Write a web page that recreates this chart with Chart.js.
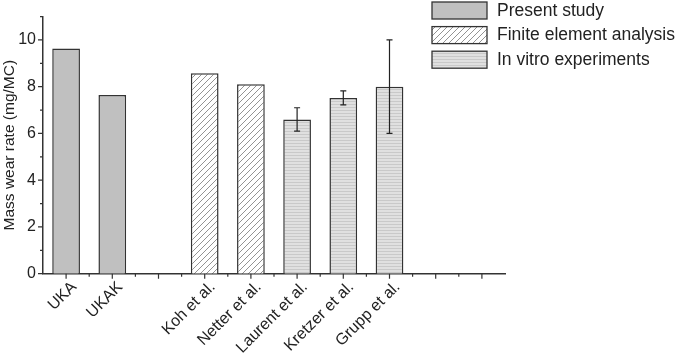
<!DOCTYPE html>
<html>
<head>
<meta charset="utf-8">
<script src="https://cdn.jsdelivr.net/npm/chart.js@4"></script>
<style>
  html, body { margin: 0; padding: 0; background: #fff; }
  #wrap { width: 675px; height: 357px; }
</style>
</head>
<body>
<div id="wrap"><canvas id="wear-chart" width="675" height="357"></canvas></div>
<script>
// categories along the x axis (blank slots are empty in the original)
const categories = ['UKA', 'UKAK', '', 'Koh et al.', 'Netter et al.', 'Laurent et al.', 'Kretzer et al.', 'Grupp et al.', '', ''];
const presentStudy = [9.63, 7.65, null, null, null, null, null, null, null, null];
const finiteElement = [null, null, null, 8.58, 8.11, null, null, null, null, null];
const inVitro = [null, null, null, null, null, 6.6, 7.52, 8.0, null, null];
const inVitroError = [null, null, null, null, null, 0.5, 0.3, 2.0, null, null];
const yMajorTicks = [0, 2, 4, 6, 8, 10];
const yMax = 11;

const FONT = '"Liberation Sans", Arial, sans-serif';
const INK = '#222';
const AXIS = '#333';

function makePattern(w, h, draw) {
    const c = document.createElement('canvas');
    c.width = w; c.height = h;
    const g = c.getContext('2d');
    draw(g, w, h);
    return g.createPattern(c, 'repeat');
}

const solidGray = '#c0c0c0';
const hatch = makePattern(6, 6, (g, w, h) => {
    g.fillStyle = '#fff';
    g.fillRect(0, 0, w, h);
    g.strokeStyle = '#777';
    g.lineWidth = 0.8;
    g.beginPath();
    g.moveTo(0, h); g.lineTo(w, 0);
    g.moveTo(-1, 1); g.lineTo(1, -1);
    g.moveTo(w - 1, h + 1); g.lineTo(w + 1, h - 1);
    g.stroke();
});
const stripes = makePattern(1, 3, (g) => {
    g.fillStyle = '#e0e0e0';
    g.fillRect(0, 0, 1, 2);
    g.fillStyle = '#c9c9c9';
    g.fillRect(0, 2, 1, 1);
});

// error bars on top of the in vitro bars
const errorBars = {
    id: 'errorBars',
    afterDatasetsDraw(chart) {
        const ctx = chart.ctx;
        const y = chart.scales.y;
        const meta = chart.getDatasetMeta(2);
        ctx.save();
        ctx.strokeStyle = INK;
        ctx.lineWidth = 1.2;
        meta.data.forEach((bar, i) => {
            const v = inVitro[i], e = inVitroError[i];
            if (v == null || e == null) return;
            const x = bar.x;
            const top = y.getPixelForValue(v + e);
            const bot = y.getPixelForValue(v - e);
            ctx.beginPath();
            ctx.moveTo(x, top); ctx.lineTo(x, bot);
            ctx.moveTo(x - 3, top); ctx.lineTo(x + 3, top);
            ctx.moveTo(x - 3, bot); ctx.lineTo(x + 3, bot);
            ctx.stroke();
        });
        ctx.restore();
    }
};

// major and minor tick marks on both axes
const axisTicks = {
    id: 'axisTicks',
    afterDraw(chart) {
        const ctx = chart.ctx;
        const x = chart.scales.x, y = chart.scales.y;
        const area = chart.chartArea;
        ctx.save();
        ctx.strokeStyle = AXIS;
        ctx.lineWidth = 1.2;
        ctx.beginPath();
        for (let v = 0; v <= yMax; v++) {
            const py = y.getPixelForValue(v);
            const len = v % 2 === 0 ? 5 : 3;
            ctx.moveTo(area.left, py); ctx.lineTo(area.left - len, py);
        }
        const half = (x.getPixelForValue(1) - x.getPixelForValue(0)) / 2;
        categories.forEach((c, i) => {
            const px = x.getPixelForValue(i);
            ctx.moveTo(px, area.bottom); ctx.lineTo(px, area.bottom + 5);
            if (i < categories.length - 1) {
                ctx.moveTo(px + half, area.bottom); ctx.lineTo(px + half, area.bottom + 3);
            }
        });
        ctx.stroke();
        ctx.restore();
    }
};

// legend drawn inside the top right corner
const boxLegend = {
    id: 'boxLegend',
    afterDraw(chart) {
        const ctx = chart.ctx;
        ctx.save();
        ctx.font = '17.5px ' + FONT;
        ctx.textBaseline = 'middle';
        chart.data.datasets.forEach((ds, i) => {
            const top = 2 + i * 24.6;
            ctx.fillStyle = ds.backgroundColor;
            ctx.fillRect(432, top, 55, 17);
            ctx.strokeStyle = AXIS;
            ctx.lineWidth = 1.3;
            ctx.strokeRect(432, top, 55, 17);
            ctx.fillStyle = INK;
            ctx.fillText(ds.label, 497, top + 9);
        });
        ctx.restore();
    }
};

const barStyle = { borderColor: AXIS, borderWidth: 1.5, barPercentage: 0.6, categoryPercentage: 1 };

new Chart(document.querySelector('#wear-chart').getContext('2d'), {
    type: 'bar',
    data: {
        labels: categories,
        datasets: [
            Object.assign({ label: 'Present study', data: presentStudy, backgroundColor: solidGray }, barStyle),
            Object.assign({ label: 'Finite element analysis', data: finiteElement, backgroundColor: hatch }, barStyle),
            Object.assign({ label: 'In vitro experiments', data: inVitro, backgroundColor: stripes }, barStyle)
        ]
    },
    options: {
        responsive: false,
        animation: false,
        grouped: false,
        layout: { padding: { left: 0, right: 170, top: 15, bottom: 0 } },
        plugins: { legend: { display: false }, tooltip: { enabled: false } },
        scales: {
            x: {
                grid: { display: false, drawTicks: false },
                border: { display: true, color: AXIS, width: 1.5 },
                ticks: {
                    autoSkip: false, maxRotation: 45, minRotation: 45,
                    color: INK, font: { family: FONT, size: 16 }, padding: 4, labelOffset: 8
                },
                afterFit: s => { s.height = 83.3; }
            },
            y: {
                min: 0, max: yMax,
                grid: { display: false, drawTicks: false },
                border: { display: true, color: AXIS, width: 1.5 },
                afterBuildTicks: s => { s.ticks = yMajorTicks.map(v => ({ value: v })); },
                ticks: { color: INK, font: { family: FONT, size: 16 }, padding: 7 },
                title: {
                    display: true, text: 'Mass wear rate (mg/MC)',
                    color: INK, font: { family: FONT, size: 15.5 }, padding: 0
                },
                afterFit: s => { s.width = 43; }
            }
        }
    },
    plugins: [errorBars, axisTicks, boxLegend]
});
</script>
</body>
</html>
